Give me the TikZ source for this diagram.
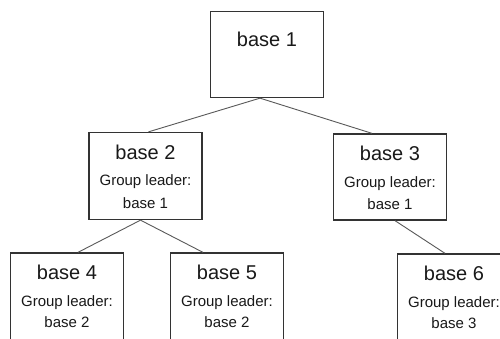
\documentclass[tikz,border=0pt]{standalone}
\usepackage{fontspec}
\setmainfont{Liberation Sans}
\begin{document}
\begin{tikzpicture}[x=1pt,y=-1pt,
  basebox/.style={draw=black!80, line width=1.3pt, minimum width=113pt, minimum height=86pt, inner sep=0pt},
  titletext/.style={font=\fontsize{20}{20}\selectfont, inner sep=0pt, text=black!90},
  infotext/.style={font=\fontsize{15}{15}\selectfont, inner sep=0pt, text=black!90},
  link/.style={draw=black!65, line width=0.9pt}]
\useasboundingbox (0,0) rectangle (500,338);
\clip (0,0) rectangle (500,338);
\fill[white] (0,0) rectangle (500,338);
% boxes
\node[basebox] (b1) at (267,54.5) {};
\node[basebox, minimum height=87pt] (b2) at (145.5,176) {};
\node[basebox] (b3) at (390,177) {};
\node[basebox, minimum height=88pt] (b4) at (67,297) {};
\node[basebox, minimum height=88pt] (b5) at (227,297) {};
\node[basebox, minimum height=88pt] (b6) at (454,298) {};
% texts
\node[titletext] (t1) at ([yshift=-28pt]b1.north) {base 1};
\node[titletext] (t2) at ([yshift=-20pt]b2.north) {base 2};
\node[infotext] (g2) at ([yshift=-50pt]b2.north) {Group leader:};
\node[infotext] (l2) at ([yshift=-71pt]b2.north) {base 1};
\node[titletext] (t3) at ([yshift=-20pt]b3.north) {base 3};
\node[infotext] (g3) at ([yshift=-50pt]b3.north) {Group leader:};
\node[infotext] (l3) at ([yshift=-71pt]b3.north) {base 1};
\node[titletext] (t4) at ([yshift=-20pt]b4.north) {base 4};
\node[infotext] (g4) at ([yshift=-50pt]b4.north) {Group leader:};
\node[infotext] (l4) at ([yshift=-70pt]b4.north) {base 2};
\node[titletext] (t5) at ([yshift=-20pt]b5.north) {base 5};
\node[infotext] (g5) at ([yshift=-50pt]b5.north) {Group leader:};
\node[infotext] (l5) at ([yshift=-70pt]b5.north) {base 2};
\node[titletext] (t6) at ([yshift=-20pt]b6.north) {base 6};
\node[infotext] (g6) at ([yshift=-50pt]b6.north) {Group leader:};
\node[infotext] (l6) at ([yshift=-70pt]b6.north) {base 3};
% connectors
\draw[link] ([xshift=-7pt]b1.south) -- ([xshift=3pt]b2.north);
\draw[link] ([xshift=-7pt]b1.south) -- ([xshift=-18pt]b3.north);
\draw[link] ([xshift=-5pt]b2.south) -- ([xshift=11pt]b4.north);
\draw[link] ([xshift=-5pt]b2.south) -- ([xshift=-24pt]b5.north);
\draw[link] ([xshift=5pt]b3.south) -- ([xshift=-9pt]b6.north);
\end{tikzpicture}
\end{document}
